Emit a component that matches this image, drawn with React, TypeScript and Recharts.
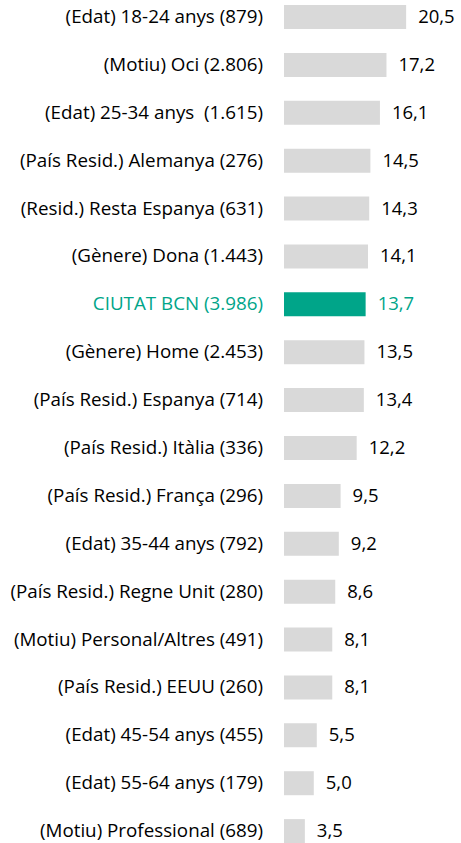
import { BarChart, Bar, XAxis, YAxis, Cell, LabelList } from "recharts";

const categories = [
  "(Edat) 18-24 anys (879)",
  "(Motiu) Oci (2.806)",
  "(Edat) 25-34 anys  (1.615)",
  "(País Resid.) Alemanya (276)",
  "(Resid.) Resta Espanya (631)",
  "(Gènere) Dona (1.443)",
  "CIUTAT BCN (3.986)",
  "(Gènere) Home (2.453)",
  "(País Resid.) Espanya (714)",
  "(País Resid.) Itàlia (336)",
  "(País Resid.) França (296)",
  "(Edat) 35-44 anys (792)",
  "(País Resid.) Regne Unit (280)",
  "(Motiu) Personal/Altres (491)",
  "(País Resid.) EEUU (260)",
  "(Edat) 45-54 anys (455)",
  "(Edat) 55-64 anys (179)",
  "(Motiu) Professional (689)",
];

const values = [20.5, 17.2, 16.1, 14.5, 14.3, 14.1, 13.7, 13.5, 13.4, 12.2, 9.5, 9.2, 8.6, 8.1, 8.1, 5.5, 5.0, 3.5];

const highlight = "CIUTAT BCN (3.986)";

const data = categories.map((name, i) => ({ name, value: values[i] }));

const TEAL = "#00A589";
const GRAY = "#D9D9D9";
const FONT = "'Open Sans', sans-serif";

function CategoryTick({ x, y, payload }: any) {
  const isMain = payload.value === highlight;
  return (
    <text
      x={x}
      y={y}
      dy={6}
      textAnchor="end"
      fontFamily={FONT}
      fontSize={18.8}
      fill={isMain ? TEAL : "#000"}
      style={{ whiteSpace: "pre" }}
    >
      {payload.value}
    </text>
  );
}

function ValueLabel({ x, y, width, height, value, index }: any) {
  const isMain = categories[index] === highlight;
  return (
    <text
      x={x + width + 12}
      y={y + height / 2}
      dy={6}
      textAnchor="start"
      fontFamily={FONT}
      fontSize={18.5}
      fill={isMain ? TEAL : "#000"}
    >
      {Number(value).toFixed(1).replace(".", ",")}
    </text>
  );
}

export default function App() {
  return (
    <div
      style={{
        position: "fixed",
        top: 0,
        left: 0,
        width: 461,
        height: 843,
        overflow: "hidden",
        background: "#fff",
      }}
    >
      <div style={{ marginTop: -7 }}>
        <BarChart
          layout="vertical"
          width={461}
          height={862}
          data={data}
          margin={{ top: 0, right: 34, bottom: 0, left: 0 }}
          barSize={24}
        >
          <XAxis type="number" domain={[0, 24]} hide />
          <YAxis
            type="category"
            dataKey="name"
            width={284}
            axisLine={false}
            tickLine={false}
            tickSize={0}
            tickMargin={21}
            interval={0}
            tick={<CategoryTick />}
          />
          <Bar dataKey="value" isAnimationActive={false}>
            {data.map((d) => (
              <Cell key={d.name} fill={d.name === highlight ? TEAL : GRAY} />
            ))}
            <LabelList dataKey="value" content={<ValueLabel />} />
          </Bar>
        </BarChart>
      </div>
    </div>
  );
}
